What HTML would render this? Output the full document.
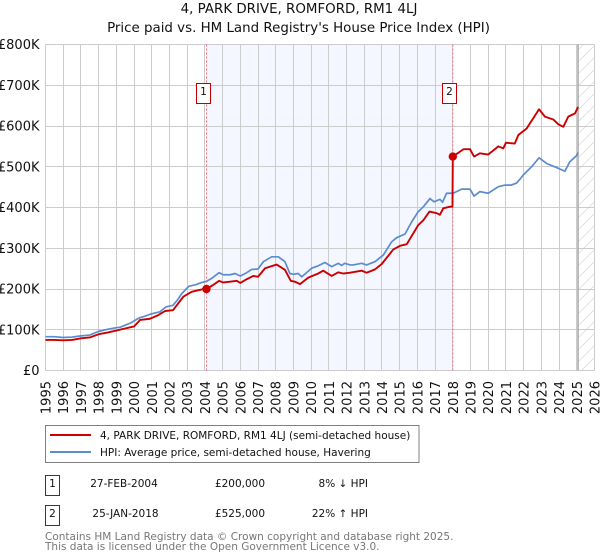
<!DOCTYPE html>
<html lang="en">
<head>
<meta charset="utf-8">
<title>4, PARK DRIVE, ROMFORD, RM1 4LJ</title>
<style>
html,body{margin:0;padding:0;background:#fff;width:600px;height:560px;overflow:hidden}
svg{display:block}
text{font-family:"DejaVu Sans","Liberation Sans",sans-serif;fill:#111}
</style>
</head>
<body>
<svg id="chart" xmlns="http://www.w3.org/2000/svg" width="600" height="560" viewBox="0 0 600 560">
<defs>
<pattern id="hatch" patternUnits="userSpaceOnUse" width="12" height="12" patternTransform="translate(2,2)">
<path d="M-3 3L3 -3M0 12L12 0M9 15L15 9" stroke="#d8d8d8" stroke-width="0.7" fill="none"/>
</pattern>
</defs>
<text x="299" y="13" text-anchor="middle" font-size="13.4">4, PARK DRIVE, ROMFORD, RM1 4LJ</text>
<text x="298.5" y="32" text-anchor="middle" font-size="13.4">Price paid vs. HM Land Registry's House Price Index (HPI)</text>
<rect id="shade" y="44.5" height="326" fill="#f4f7ff"/>
<rect id="hatchRect" y="44.5" height="326" fill="url(#hatch)"/>
<g id="grid"></g>
<g id="yLabels"></g>
<g id="xLabels"></g>
<g id="marks"></g>

<rect x="45.5" y="425.5" width="373.5" height="37" fill="#fff" stroke="#808080" stroke-width="1"/>
<line x1="50" x2="91" y1="435" y2="435" stroke="#cc0000" stroke-width="2"/>
<text x="100" y="439" font-size="10.5">4, PARK DRIVE, ROMFORD, RM1 4LJ (semi-detached house)</text>
<line x1="50" x2="91" y1="452" y2="452" stroke="#5b8ccf" stroke-width="2"/>
<text x="100" y="456" font-size="10.5">HPI: Average price, semi-detached house, Havering</text>

<rect x="45.5" y="475.5" width="14" height="20" fill="#fff" stroke="#c00000"/>
<text x="52.5" y="487" text-anchor="middle" font-size="10.5">1</text>
<text x="124" y="487" text-anchor="middle" font-size="10.5">27-FEB-2004</text>
<text x="240" y="487" text-anchor="middle" font-size="10.5">£200,000</text>
<text x="368" y="487" text-anchor="end" font-size="10.5">8% ↓ HPI</text>

<rect x="45.5" y="505.5" width="14" height="20" fill="#fff" stroke="#c00000"/>
<text x="52.5" y="517" text-anchor="middle" font-size="10.5">2</text>
<text x="125.5" y="517" text-anchor="middle" font-size="10.5">25-JAN-2018</text>
<text x="240" y="517" text-anchor="middle" font-size="10.5">£525,000</text>
<text x="368" y="517" text-anchor="end" font-size="10.5">22% ↑ HPI</text>

<text x="45" y="540" font-size="10.5" style="fill:#777">Contains HM Land Registry data © Crown copyright and database right 2025.</text>
<text x="45" y="550" font-size="10.5" style="fill:#777">This data is licensed under the Open Government Licence v3.0.</text>
</svg>
<script>
const xTickYears = [1995,1996,1997,1998,1999,2000,2001,2002,2003,2004,2005,2006,2007,2008,2009,2010,2011,2012,2013,2014,2015,2016,2017,2018,2019,2020,2021,2022,2023,2024,2025,2026];
const yTickValues = [0,100,200,300,400,500,600,700,800];
const yTickLabels = ['£0','£100K','£200K','£300K','£400K','£500K','£600K','£700K','£800K'];
const hpiYears = [
1995,1995.5,1996,1996.5,1997,1997.5,1998,1998.5,1999,1999.2,
1999.77,2000.34,2000.6,2000.9,2001.46,2001.8,2002.2,2002.45,2002.7,2003.1,
2003.44,2003.82,2004.1,2004.38,2004.8,2005.04,2005.42,2005.7,2006,2006.36,
2006.64,2007,2007.3,2007.77,2008.15,2008.52,2008.8,2009,2009.27,2009.47,
2010.03,2010.4,2010.78,2011.16,2011.53,2011.72,2011.9,2012.2,2012.38,2012.85,
2013.13,2013.6,2014.07,2014.55,2014.83,2015.3,2015.68,2016.05,2016.34,2016.71,
2016.94,2017.27,2017.42,2017.65,2018.02,2018.5,2018.97,2019.2,2019.53,2020,
2020.57,2020.95,2021.3,2021.6,2021.8,2021.98,2022.45,2022.87,2023.3,2023.86,
2024.33,2024.6,2025,2025.07];
const hpiValues = [
83,83,81,82,85,87,96,101,105,106,
116,130,133,138,144,156,160,173,189,207,
210,216,219,226,240,235,235,238,232,240,
248,249,267,279,279,267,238,236,238,230,
251,257,265,255,263,258,263,259,259,263,
259,267,283,316,326,335,365,390,402,422,
414,420,413,435,435,445,445,428,439,435,
451,455,455,460,470,480,500,522,508,498,
489,512,528,535];
const priceYears = [
1995,1995.5,1996,1996.5,1997,1997.5,1998,1998.5,1999,1999.58,
2000,2000.34,2000.9,2001.37,2001.75,2002.2,2002.5,2002.78,2003.25,2003.82,
2004.09,2004.47,2004.8,2005.04,2005.42,2005.8,2006,2006.36,2006.73,2007,
2007.4,2008.05,2008.52,2008.85,2009.08,2009.37,2009.84,2010.4,2010.68,2011.16,
2011.53,2011.8,2012.2,2012.85,2013.13,2013.6,2013.98,2014.64,2015.02,2015.4,
2016.05,2016.34,2016.68,2017.09,2017.27,2017.46,2017.84,2017.98,2018,2018.6,
2018.97,2019.2,2019.53,2020,2020.57,2020.85,2021,2021.5,2021.7,2022.17,
2022.45,2022.87,2023.2,2023.67,2023.96,2024.24,2024.52,2024.9,2025.07];
const priceValues = [
75,75,74,75,79,81,89,93,98,104,
108,124,127,136,146,148,165,181,193,199,
200,210,220,216,218,220,215,224,232,230,
251,260,247,220,218,212,228,238,245,232,
241,238,240,245,240,248,261,297,306,310,
357,369,390,386,382,398,402,402,525,543,
543,525,533,530,550,545,559,557,578,594,
613,641,623,616,604,598,623,631,647];
const saleYears = [2004.09,2018];
const saleValues = [200,525];
const saleNumbers = ['1','2'];

const svgNS = 'http://www.w3.org/2000/svg';
const xScale = y => 45.5 + (y - 1995) * (549 / 31);
const yScale = v => 370.5 - v * (326 / 800);
const snap = p => Math.floor(p) + 0.5;
const grid = document.getElementById('grid');
const yLabels = document.getElementById('yLabels');
const xLabels = document.getElementById('xLabels');
const marks = document.getElementById('marks');

document.getElementById('shade').setAttribute('x', xScale(saleYears[0]));
document.getElementById('shade').setAttribute('width', xScale(saleYears[1]) - xScale(saleYears[0]));
document.getElementById('hatchRect').setAttribute('x', xScale(2025.07));
document.getElementById('hatchRect').setAttribute('width', 594.5 - xScale(2025.07));

yTickValues.forEach((v, i) => {
  const l = document.createElementNS(svgNS, 'line');
  
  
  l.setAttribute('x1', 45.5);
  l.setAttribute('x2', 594.5);
  l.setAttribute('y1', snap(yScale(v)));
  l.setAttribute('y2', snap(yScale(v)));
  l.setAttribute('stroke', '#cccccc');
  grid.appendChild(l);
  const t = document.createElementNS(svgNS, 'text');
  
  
  t.setAttribute('x', 39.5);
  t.setAttribute('y', yScale(v) + 4.5);
  t.setAttribute('text-anchor', 'end');
  t.setAttribute('font-size', '13');
  t.textContent = yTickLabels[i];
  yLabels.appendChild(t);
});

xTickYears.forEach(yr => {
  const l = document.createElementNS(svgNS, 'line');
  
  
  l.setAttribute('x1', snap(xScale(yr)));
  l.setAttribute('x2', snap(xScale(yr)));
  l.setAttribute('y1', 44.5);
  l.setAttribute('y2', 370.5);
  l.setAttribute('stroke', '#cccccc');
  grid.appendChild(l);
  const t = document.createElementNS(svgNS, 'text');
  
  
  t.setAttribute('text-anchor', 'end');
  t.setAttribute('font-size', '13');
  t.setAttribute('transform', 'translate(' + (xScale(yr) + 5) + ',381) rotate(-90)');
  t.textContent = yr;
  xLabels.appendChild(t);
});

const endLine = document.createElementNS(svgNS, 'line');


endLine.setAttribute('x1', xScale(2025.07));
endLine.setAttribute('x2', xScale(2025.07));
endLine.setAttribute('y1', 44.5);
endLine.setAttribute('y2', 370.5);
endLine.setAttribute('stroke', '#a8a8a8');
endLine.setAttribute('stroke-width', '1.5');
marks.appendChild(endLine);

saleYears.forEach(yr => {
  const l = document.createElementNS(svgNS, 'line');
  
  
  l.setAttribute('x1', xScale(yr));
  l.setAttribute('x2', xScale(yr));
  l.setAttribute('y1', 44.5);
  l.setAttribute('y2', 370.5);
  l.setAttribute('stroke', '#ff6b78');
  l.setAttribute('stroke-width', '1');
  l.setAttribute('stroke-dasharray', '2 2');
  marks.appendChild(l);
});

const pathFrom = (xs, ys) => xs.map((yr, i) => (i ? 'L' : 'M') + xScale(yr).toFixed(2) + ' ' + yScale(ys[i]).toFixed(2)).join('');

const hpiLine = document.createElementNS(svgNS, 'path');


hpiLine.setAttribute('d', pathFrom(hpiYears, hpiValues));
hpiLine.setAttribute('fill', 'none');
hpiLine.setAttribute('stroke', '#5b8ccf');
hpiLine.setAttribute('stroke-width', '1.7');
hpiLine.setAttribute('stroke-linejoin', 'round');
marks.appendChild(hpiLine);

const priceLine = document.createElementNS(svgNS, 'path');


priceLine.setAttribute('d', pathFrom(priceYears, priceValues));
priceLine.setAttribute('fill', 'none');
priceLine.setAttribute('stroke', '#cc0000');
priceLine.setAttribute('stroke-width', '1.9');
priceLine.setAttribute('stroke-linejoin', 'round');
marks.appendChild(priceLine);

saleYears.forEach((yr, i) => {
  const c = document.createElementNS(svgNS, 'circle');
  
  
  c.setAttribute('cx', xScale(yr));
  c.setAttribute('cy', yScale(saleValues[i]));
  c.setAttribute('r', 4.2);
  c.setAttribute('fill', '#cc0000');
  marks.appendChild(c);
  const b = document.createElementNS(svgNS, 'rect');
  
  
  b.setAttribute('x', snap(xScale(yr) - 10));
  b.setAttribute('y', 83.5);
  b.setAttribute('width', 14);
  b.setAttribute('height', 20);
  b.setAttribute('fill', '#fff');
  b.setAttribute('stroke', '#c00000');
  marks.appendChild(b);
  const t = document.createElementNS(svgNS, 'text');
  
  
  t.setAttribute('x', snap(xScale(yr) - 10) + 7);
  t.setAttribute('y', 95);
  t.setAttribute('text-anchor', 'middle');
  t.setAttribute('font-size', '10.5');
  t.textContent = saleNumbers[i];
  marks.appendChild(t);
});
</script>
</body>
</html>
